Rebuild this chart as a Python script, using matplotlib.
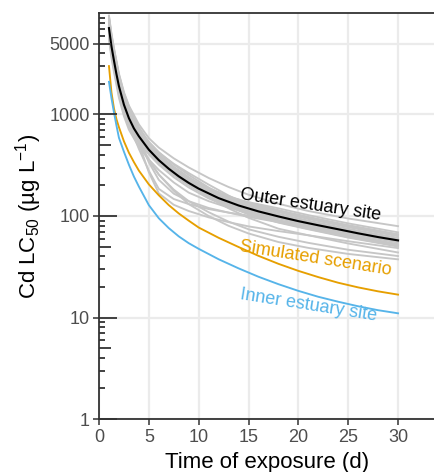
import matplotlib
matplotlib.use("Agg")
import matplotlib.pyplot as plt
from matplotlib.ticker import NullLocator

plt.rcParams['font.family'] = ['Liberation Sans', 'DejaVu Sans']
plt.rcParams['mathtext.fontset'] = 'custom'
plt.rcParams['mathtext.rm'] = 'Liberation Sans'
plt.rcParams['mathtext.it'] = 'Liberation Sans:italic'
plt.rcParams['mathtext.bf'] = 'Liberation Sans:bold'

# exposure time (d) for the three highlighted curves
days = [1, 1.25, 1.5, 1.75, 2, 2.5, 3, 3.5, 4, 5, 6, 7, 8, 9, 10,
        12, 14, 16, 18, 20, 22, 24, 26, 28, 30]

# Cd LC50 (ug/L) over time
outer_site = [7100, 4700, 3400, 2500, 1900, 1250, 920, 730, 610, 450, 355, 292, 246, 212, 186,
              150, 127, 111, 99, 89, 81, 74, 67.5, 62, 57.5]
simulated = [3000, 1650, 1150, 900, 750, 545, 420, 340, 280, 205, 160, 128, 106, 90, 77,
             61, 49.5, 40.5, 33.8, 28.8, 25, 22, 19.8, 18.1, 16.8]
inner_site = [2100, 1450, 1050, 780, 590, 430, 320, 245, 195, 128, 95, 76, 63, 54, 47.5,
              37.5, 30.5, 25.2, 21.3, 18.3, 16.0, 14.3, 12.9, 11.8, 11.0]

# exposure time (d) for the individual parameter-set predictions
run_days = [1, 1.25, 1.5, 2, 2.5, 3, 4, 5, 6, 7.5, 9, 11, 13, 15, 18, 21, 25, 30]

individual_runs = [
    [7950, 5260, 3810, 2130, 1400, 1030, 670, 486, 383, 289, 229, 181, 150, 129, 109, 93.5, 77.6, 63.3],
    [6530, 4320, 3130, 1750, 1150, 846, 570, 428, 337, 255, 201, 159, 132, 114, 96, 82.5, 68.4, 55.8],
    [9020, 5970, 4320, 2410, 1590, 1170, 702, 464, 366, 276, 218, 167, 133, 110, 89, 76.5, 63.5, 51.8],
    [7460, 4940, 3570, 2000, 1310, 966, 662, 504, 398, 300, 237, 188, 157, 135, 114, 97.8, 81.1, 66.1],
    [5820, 3850, 2790, 1560, 1025, 754, 525, 405, 320, 241, 191, 149, 123, 104, 87, 74.8, 62, 50.6],
    [8520, 5640, 4080, 2280, 1500, 1100, 656, 428, 337, 255, 201, 155, 126, 105, 86, 74, 61.3, 50],
    [6960, 4610, 3330, 1860, 1225, 902, 634, 495, 390, 295, 233, 182, 149, 126, 105, 90, 74.7, 61],
    [6180, 4090, 2960, 1650, 1090, 800, 458, 279, 185, 147, 131, 117, 108, 101, 90, 81, 70, 58.5],
    [7810, 5170, 3740, 2090, 1375, 1010, 580, 338, 227, 166, 140, 120, 108, 98, 87, 78, 67, 55.2],
    [9440, 6250, 4520, 2530, 1660, 1225, 800, 585, 472, 370, 301, 237, 193, 162, 132, 112, 94.5, 79.4],
    [8800, 5830, 4220, 2360, 1550, 1140, 744, 540, 426, 322, 254, 191, 150, 121, 96, 82.5, 68.4, 55.8],
    [6820, 4510, 3260, 1820, 1200, 883, 589, 437, 344, 260, 206, 153, 119, 96, 75, 64.6, 53.6, 43.7],
    [7100, 4700, 3400, 1900, 1250, 920, 549, 360, 256, 177, 131, 100, 80, 67.3, 55.4, 48.5, 42.3, 37.4],
    [6040, 4000, 2890, 1615, 1063, 782, 576, 468, 369, 279, 220, 174, 144, 123, 103, 88.4, 73.3, 59.8],
    [8170, 5400, 3910, 2185, 1438, 1058, 662, 459, 362, 273, 216, 175, 148, 129, 111, 95.2, 79, 64.4],
    [7600, 5030, 3640, 2030, 1338, 984, 662, 495, 390, 295, 233, 179, 144, 120, 98, 84.2, 69.8, 56.9],
    [5470, 3620, 2620, 1460, 963, 708, 479, 360, 284, 214, 170, 140, 121, 109, 95, 81.6, 67.7, 55.2],
    [8380, 5550, 4010, 2240, 1475, 1086, 677, 468, 369, 279, 220, 178, 150, 132, 113, 96.9, 80.4, 65.6],
    [6600, 4370, 3160, 1770, 1163, 856, 576, 432, 341, 257, 204, 158, 128, 108, 89, 76.5, 63.5, 51.8],
    [9230, 6110, 4420, 2470, 1625, 1200, 744, 513, 405, 306, 242, 181, 142, 115, 91, 78.2, 64.9, 52.9],
    [7310, 4840, 3500, 1960, 1288, 948, 619, 450, 355, 268, 212, 168, 139, 120, 101, 86.7, 71.9, 58.7],
    [6890, 4560, 3300, 1840, 1213, 892, 610, 464, 366, 276, 218, 179, 154, 137, 119, 102, 84.6, 69],
    [8020, 5310, 3840, 2150, 1410, 1040, 519, 270, 167, 129, 112, 97, 87, 79, 71, 64.6, 56.4, 48.3],
    [7030, 4650, 3370, 1880, 1238, 911, 653, 513, 419, 327, 265, 204, 159, 127, 101, 85, 70.5, 57.5],
    [6390, 4230, 3060, 1710, 1125, 828, 519, 351, 256, 182, 140, 109, 88, 74, 62.4, 54.4, 46.5, 40.3],
]

x_ticks = [0, 5, 10, 15, 20, 25, 30]
y_ticks = [1, 10, 100, 1000, 5000]
y_tick_labels = ["1", "10", "100", "1000", "5000"]

GREY = "#C6C6C6"
ORANGE = "#E69F00"
BLUE = "#56B4E9"
AXIS = "#333333"
TICKLBL = "#4D4D4D"

fig = plt.figure(figsize=(4.35, 4.72), dpi=100)
ax = fig.add_axes([99 / 435, 1 - 419 / 472, 1 - 99 / 435, (419 - 13) / 472])

ax.set_yscale("log")
ax.set_xlim(0, 33.71)
ax.set_ylim(1, 10000)

for run in individual_runs:
    ax.plot(run_days, run, color=GREY, lw=1.35, zorder=2, solid_joinstyle="round")
ax.plot(days, simulated, color=ORANGE, lw=1.35, zorder=3)
ax.plot(days, inner_site, color=BLUE, lw=1.35, zorder=3)
ax.plot(days, outer_site, color="black", lw=1.5, zorder=4)

# curve labels
ax.text(21.2, 128, "Outer estuary site", color="black", fontsize=13,
        rotation=-8.5, rotation_mode="anchor", ha="center", va="center", zorder=5)
ax.text(21.75, 37.7, "Simulated scenario", color=ORANGE, fontsize=13,
        rotation=-9, rotation_mode="anchor", ha="center", va="center", zorder=5)
ax.text(21.0, 13.3, "Inner estuary site", color=BLUE, fontsize=13,
        rotation=-9, rotation_mode="anchor", ha="center", va="center", zorder=5)

# axes styling
ax.set_xticks(x_ticks)
ax.set_yticks(y_ticks)
ax.set_yticklabels(y_tick_labels)
ax.yaxis.set_minor_locator(NullLocator())
ax.grid(True, which="major", color="#EBEBEB", lw=1.6, zorder=0)
ax.set_axisbelow(True)

for side in ["left", "bottom", "top"]:
    ax.spines[side].set_color(AXIS)
    ax.spines[side].set_linewidth(1.3)
ax.spines["right"].set_visible(False)

ax.tick_params(axis="both", which="major", direction="out", length=4,
               width=1.1, color=AXIS, labelcolor=TICKLBL, labelsize=13)
ax.tick_params(axis="y", pad=2.5)
ax.tick_params(axis="x", pad=3.5)

# log ticks along the left axis
ywt = ax.get_yaxis_transform()
axw = 435 - 99
long_len, mid_len, short_len = 18 / axw, 12 / axw, 6.5 / axw
for dec in [1, 10, 100, 1000]:
    ax.plot([0, long_len], [dec, dec], transform=ywt, color=AXIS, lw=1.3,
            solid_capstyle="butt", clip_on=False, zorder=6)
    ax.plot([0, mid_len], [5 * dec, 5 * dec], transform=ywt, color=AXIS, lw=1.3,
            solid_capstyle="butt", clip_on=False, zorder=6)
    for m in [2, 3, 4, 6, 7, 8, 9]:
        ax.plot([0, short_len], [m * dec, m * dec], transform=ywt, color=AXIS,
                lw=1.3, solid_capstyle="butt", clip_on=False, zorder=6)

ax.set_xlabel("Time of exposure (d)", fontsize=16, color="black", labelpad=4)
ax.set_ylabel("Cd LC$_{50}$ (µg L$^{-1}$)", fontsize=16, color="black", labelpad=4)

fig.savefig("out.png", dpi=100)
